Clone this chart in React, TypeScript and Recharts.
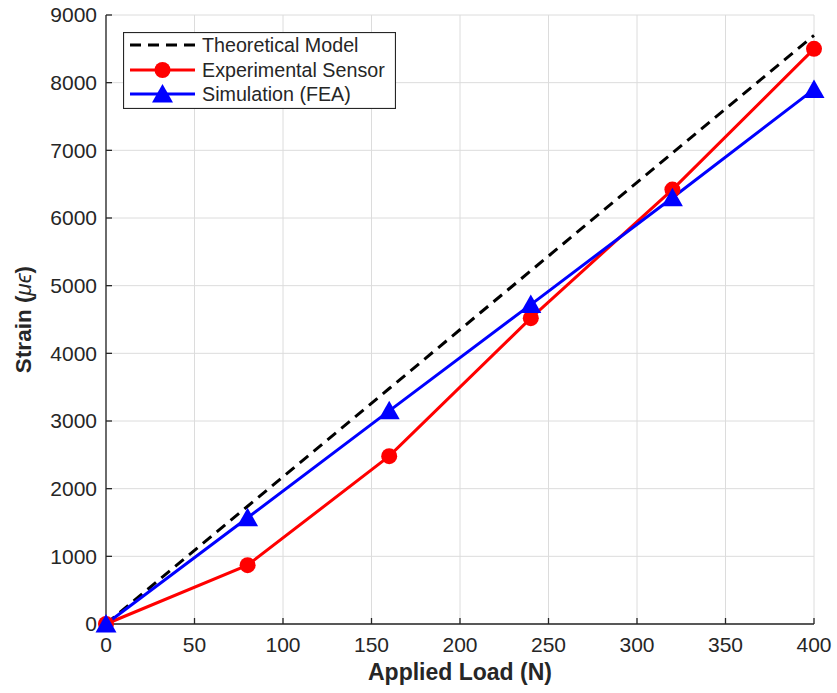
import { CartesianGrid, Legend, Line, LineChart, XAxis, YAxis } from "recharts"

const loads = [0, 80, 160, 240, 320, 400]
const theoretical = [0, 1740, 3480, 5220, 6960, 8700]
const experimental = [0, 870, 2480, 4520, 6420, 8500]
const simulation = [0, 1570, 3150, 4720, 6300, 7900]

const xTicks = [0, 50, 100, 150, 200, 250, 300, 350, 400]
const yTicks = [0, 1000, 2000, 3000, 4000, 5000, 6000, 7000, 8000, 9000]

const rows = loads.map((load, i) => ({
  load,
  theoretical: theoretical[i],
  experimental: experimental[i],
  simulation: simulation[i],
}))

const font = '"Liberation Sans", Arial, sans-serif'
const ink = "#262626"

function Triangle(props: any) {
  const { cx, cy, index } = props
  if (cx == null || cy == null) return null
  return <path key={index} d={`M${cx},${cy - 10} L${cx + 10.5},${cy + 8.5} L${cx - 10.5},${cy + 8.5} Z`} fill="#0000ff" />
}

function StrainLabel(props: any) {
  const vb = props.viewBox || { y: 15, height: 609 }
  const x = 23
  const y = vb.y + vb.height / 2
  return (
    <text
      x={x}
      y={y}
      transform={`rotate(-90 ${x} ${y})`}
      textAnchor="middle"
      dominantBaseline="central"
      fontFamily={font}
      fontSize={22.5}
      fontWeight="bold"
      fill={ink}
    >
      Strain (<tspan fontStyle="italic" fontWeight="normal">μϵ</tspan>)
    </text>
  )
}

function LegendBox() {
  const rowY = [13, 38, 62]
  return (
    <svg width={273} height={77} style={{ display: "block" }}>
      <rect x={0.5} y={0.5} width={272} height={76} fill="#fff" stroke={ink} strokeWidth={1.2} />
      <line x1={7} x2={72} y1={rowY[0]} y2={rowY[0]} stroke="#000" strokeWidth={3} strokeDasharray="11 7" />
      <line x1={7} x2={72} y1={rowY[1]} y2={rowY[1]} stroke="#ff0000" strokeWidth={3} />
      <circle cx={39.5} cy={rowY[1]} r={8} fill="#ff0000" />
      <line x1={7} x2={72} y1={rowY[2]} y2={rowY[2]} stroke="#0000ff" strokeWidth={3} />
      <Triangle cx={39.5} cy={rowY[2]} index={0} />
      {["Theoretical Model", "Experimental Sensor", "Simulation (FEA)"].map((t, i) => (
        <text key={t} x={79} y={rowY[i]} dominantBaseline="central" fontFamily={font} fontSize={19.7} fill={ink}>
          {t}
        </text>
      ))}
    </svg>
  )
}

export default function App() {
  return (
    <div style={{ position: "absolute", left: 0, top: 0, width: 837, height: 693, background: "#fff" }}>
      <LineChart width={837} height={693} data={rows} margin={{ top: 15, right: 23, left: 0, bottom: 0 }}>
        <CartesianGrid stroke="#dcdcdc" strokeWidth={1} />
        <XAxis
          dataKey="load"
          type="number"
          domain={[0, 400]}
          ticks={xTicks}
          height={69}
          stroke={ink}
          strokeWidth={1.3}
          tickSize={-6}
          tickMargin={19}
          tick={{ fill: ink, fontSize: 21, fontFamily: font }}
          label={{ value: "Applied Load (N)", position: "insideBottom", offset: 13, fill: ink, fontSize: 23, fontWeight: "bold", fontFamily: font }}
        />
        <XAxis xAxisId="top" orientation="top" type="number" domain={[0, 400]} ticks={xTicks} height={0} stroke={ink} strokeWidth={1.3} tickSize={-6} tick={false} />
        <YAxis
          type="number"
          domain={[0, 9000]}
          ticks={yTicks}
          width={106}
          stroke={ink}
          strokeWidth={1.3}
          tickSize={-6}
          tickMargin={15}
          tick={{ fill: ink, fontSize: 21, fontFamily: font }}
          label={<StrainLabel />}
        />
        <YAxis yAxisId="right" orientation="right" type="number" domain={[0, 9000]} ticks={yTicks} width={0} stroke={ink} strokeWidth={1.3} tickSize={-6} tick={false} />
        <Legend layout="vertical" align="center" verticalAlign="middle" wrapperStyle={{ position: "absolute", left: 123, top: 32, width: 273, height: 77 }} content={() => <LegendBox />} />
        <Line dataKey="theoretical" type="linear" stroke="#000" strokeWidth={3} strokeDasharray="11 7" dot={false} isAnimationActive={false} />
        <Line dataKey="experimental" type="linear" stroke="#ff0000" strokeWidth={3} dot={{ r: 8, fill: "#ff0000", stroke: "#ff0000", strokeWidth: 0 }} isAnimationActive={false} />
        <Line dataKey="simulation" type="linear" stroke="#0000ff" strokeWidth={3} dot={(p: any) => <Triangle key={p.index} {...p} />} isAnimationActive={false} />
      </LineChart>
    </div>
  )
}
